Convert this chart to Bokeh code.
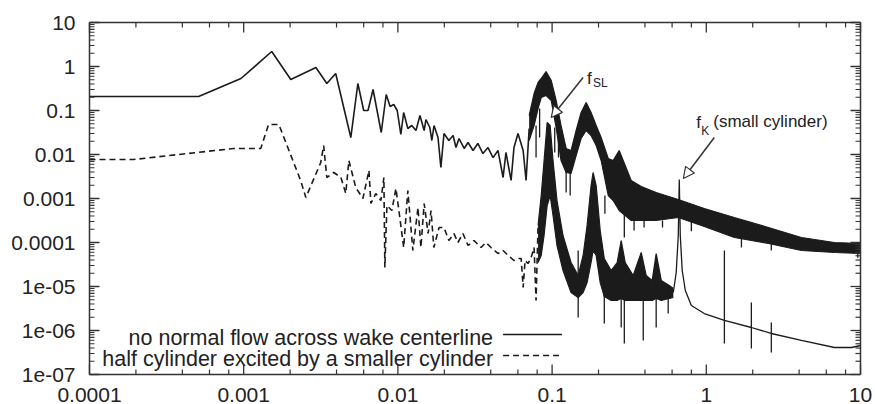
from bokeh.plotting import figure
from bokeh.models import Range1d, Label, Arrow, NormalHead
from bokeh.core.properties import value
from bokeh.embed import file_html
from bokeh.resources import INLINE

# ---------------- axes ----------------
x_ticks = [1e-4, 1e-3, 1e-2, 1e-1, 1, 10]
x_tick_labels = ["0.0001", "0.001", "0.01", "0.1", "1", "10"]
y_ticks = [1e-7, 1e-6, 1e-5, 1e-4, 1e-3, 1e-2, 1e-1, 1, 10]
y_tick_labels = ["1e-07", "1e-06", "1e-05", "0.0001", "0.001", "0.01", "0.1", "1", "10"]
x_minor_mant = [2, 4, 6, 8]
y_minor_mant = [2, 3, 4, 5, 6, 7, 8, 9]

# ---------------- series 1: no normal flow across wake centerline (solid) ----------------
solid_x = [1e-4, 5.1e-4, 9.6e-4, 1.52e-3, 2.02e-3, 2.94e-3, 3.46e-3, 3.95e-3, 4.95e-3, 5.5e-3,
           6.0e-3, 6.4e-3, 6.9e-3, 7.8e-3, 8.4e-3, 8.9e-3, 9.4e-3, 9.9e-3, 1.045e-2, 1.09e-2,
           1.16e-2, 1.23e-2, 1.31e-2, 1.39e-2, 1.48e-2, 1.52e-2, 1.61e-2, 1.66e-2, 1.715e-2, 1.82e-2,
           1.90e-2, 1.99e-2, 2.14e-2, 2.28e-2, 2.38e-2, 2.49e-2, 2.69e-2, 2.85e-2, 3.07e-2, 3.30e-2,
           3.56e-2, 3.84e-2, 4.14e-2, 4.46e-2, 4.81e-2, 5.02e-2, 5.42e-2, 5.66e-2, 6.01e-2, 6.49e-2,
           6.78e-2, 7.10e-2]
solid_y = [0.208, 0.208, 0.534, 2.19, 0.506, 0.949, 0.411, 0.693, 0.0243, 0.411,
           0.1, 0.1, 0.30, 0.0316, 0.231, 0.123, 0.137, 0.1, 0.0285, 0.0901,
           0.039, 0.0456, 0.0351, 0.0769, 0.0351, 0.0624, 0.0411, 0.0208, 0.0456, 0.0243,
           5.07e-3, 0.030, 0.0208, 0.027, 0.0144, 0.0231, 0.0137, 0.0187, 0.0123, 0.0178,
           0.0105, 0.0144, 0.0085, 0.0123, 0.0030, 0.0111, 0.00257, 0.0144, 0.030, 0.0123,
           0.00257, 0.039]
# dense (noisy) part drawn as an envelope band
solid_band_x = [0.0710, 0.0764, 0.0811, 0.0850, 0.0914, 0.0987, 0.1062, 0.1143, 0.1233, 0.1327,
                0.1432, 0.1542, 0.1663, 0.1790, 0.1931, 0.2080, 0.2312, 0.2489, 0.2723, 0.2979,
                0.3258, 0.3784, 0.4731, 0.6577, 0.970, 1.52, 2.53, 4.14, 6.78, 10.0]
solid_band_hi = [0.0769, 0.243, 0.433, 0.534, 0.769, 0.481, 0.169, 0.0456, 0.0137, 0.0123,
                 0.0351, 0.0901, 0.152, 0.0901, 0.0456, 0.0243, 0.0081, 0.00731, 0.0123, 0.0056,
                 0.00257, 0.001874, 0.001368, 0.000949, 0.000593, 0.00037, 0.000219, 0.00013, 0.0001, 0.0000949]
solid_band_lo = [0.0208, 0.0456, 0.111, 0.197, 0.219, 0.169, 0.0411, 0.00731, 0.0039, 0.0037,
                 0.0095, 0.0231, 0.0351, 0.027, 0.016, 0.00731, 0.00117, 0.000901, 0.000534, 0.000411,
                 0.000316, 0.000316, 0.000316, 0.00037, 0.000231, 0.00013, 0.0000949, 6.58e-5, 5.93e-5, 5.62e-5]
solid_spike_x = [0.0787, 0.0830, 0.1040, 0.1100, 0.1233, 0.131, 0.2200, 0.294, 0.340, 0.395,
                 0.52, 0.80, 1.69, 2.64, 9.6]
solid_spike_top = [0.0456, 0.111, 0.0411, 0.0411, 0.00731, 0.0039, 0.00117, 0.000534, 0.000316, 0.000316,
                   0.000316, 0.0003, 0.00013, 0.0001, 0.0001]
solid_spike_bot = [0.0085, 0.0243, 0.0111, 0.0085, 0.001368, 0.00117, 0.00045, 0.00013, 0.0001875, 0.000219,
                   0.00022, 0.00018, 7.69e-5, 6.58e-5, 4.5e-5]

# ---------------- series 2: half cylinder excited by a smaller cylinder (dashed) ----------------
dash_x = [1e-4, 1.93e-4, 4.33e-4, 8.61e-4, 1.29e-3, 1.45e-3, 1.69e-3, 2.34e-3, 2.53e-3, 3.16e-3,
          3.30e-3, 3.46e-3, 3.84e-3, 4.27e-3, 4.59e-3, 4.81e-3, 5.33e-3, 5.93e-3, 6.49e-3, 6.68e-3,
          7.19e-3, 7.76e-3, 8.11e-3, 8.23e-3, 8.49e-3, 9.14e-3, 9.71e-3, 1.015e-2, 1.09e-2, 1.16e-2,
          1.25e-2, 1.35e-2, 1.41e-2, 1.48e-2, 1.57e-2, 1.64e-2, 1.71e-2, 1.85e-2, 1.99e-2, 2.14e-2,
          2.31e-2, 2.45e-2, 2.64e-2, 2.85e-2, 3.12e-2, 3.46e-2, 3.72e-2, 4.02e-2, 4.46e-2, 4.81e-2,
          5.18e-2, 5.66e-2, 6.1e-2, 6.30e-2, 6.49e-2, 6.68e-2, 6.98e-2, 7.31e-2, 7.64e-2, 7.87e-2,
          8.11e-2]
dash_y = [7.69e-3, 7.69e-3, 1.054e-2, 1.37e-2, 1.37e-2, 4.81e-2, 4.81e-2, 2.57e-3, 1.054e-3, 6.58e-3,
          1.60e-2, 3.0e-3, 3.9e-3, 3.0e-3, 1.30e-3, 7.31e-3, 1.78e-3, 1.0e-3, 4.33e-3, 7.69e-4,
          1.30e-3, 9.0e-4, 3.0e-3, 2.70e-5, 6.93e-4, 5.34e-4, 1.69e-3, 5.34e-4, 7.69e-5, 1.52e-3,
          6.58e-5, 6.24e-4, 7.69e-5, 7.69e-4, 1.60e-4, 5.34e-4, 7.69e-5, 2.19e-4, 2.19e-4, 1.11e-4,
          1.60e-4, 1.0e-4, 1.60e-4, 8.55e-5, 1.11e-4, 7.69e-5, 1.0e-4, 7.69e-5, 5.62e-5, 6.58e-5,
          5.07e-5, 3.9e-5, 4.33e-5, 4.33e-5, 9.49e-6, 3.9e-5, 3.33e-5, 4.56e-5, 7.69e-5, 4.81e-6,
          2.43e-4]
dash_band_x = [0.0811, 0.0850, 0.0887, 0.0929, 0.0971, 0.1014, 0.1076, 0.1177, 0.1327, 0.1476,
               0.1589, 0.1686, 0.1790, 0.1844, 0.1931, 0.2051, 0.2179, 0.2416, 0.2642, 0.2806,
               0.2979, 0.3357, 0.3784, 0.4074, 0.4457, 0.4731, 0.5105, 0.5754, 0.6110]
dash_band_hi = [2.43e-4, 1.17e-3, 7.31e-3, 5.34e-2, 4.56e-2, 7.31e-3, 9.0e-4, 1.44e-4, 3.51e-5, 1.78e-5,
                5.07e-5, 2.43e-4, 1.97e-3, 3.9e-3, 1.97e-3, 1.87e-4, 4.33e-5, 2.31e-5, 3.51e-5, 1.11e-4,
                3.51e-5, 1.78e-5, 5.93e-5, 1.78e-5, 1.37e-5, 5.62e-5, 1.37e-5, 1.054e-5, 9.0e-6]
dash_band_lo = [3.51e-5, 5.07e-5, 1.44e-4, 6.93e-4, 1.17e-3, 4.11e-4, 8.55e-5, 2.31e-5, 7.31e-6, 5.62e-6,
                7.31e-6, 1.23e-5, 3.51e-5, 6.58e-5, 5.07e-5, 1.23e-5, 5.93e-6, 4.81e-6, 4.81e-6, 5.34e-6,
                4.81e-6, 4.81e-6, 4.81e-6, 4.81e-6, 4.81e-6, 5.34e-6, 4.81e-6, 5.34e-6, 5.62e-6]
tail_x = [0.611, 0.638, 0.658, 0.668, 0.678, 0.698, 0.731, 0.800, 0.970, 1.31,
          1.96, 2.64, 4.14, 6.78, 8.75, 10.0]
tail_y = [7.31e-6, 2.08e-5, 1.44e-4, 2.70e-3, 1.44e-4, 2.31e-5, 8.11e-6, 3.70e-6, 2.43e-6, 1.69e-6,
          1.17e-6, 8.55e-7, 5.93e-7, 4.11e-7, 4.11e-7, 4.56e-7]
dash_spike_x = [0.1476, 0.218, 0.2806, 0.294, 0.390, 0.4731, 0.566, 1.31, 1.96, 2.64]
dash_spike_top = [6.58e-5, 1.37e-5, 1.37e-5, 1.054e-5, 1.054e-5, 1.054e-5, 1.054e-5, 6.58e-5, 4.33e-6, 1.52e-6]
dash_spike_bot = [1.97e-6, 1.44e-6, 1.17e-6, 5.07e-7, 5.93e-7, 1.17e-6, 2.43e-6, 5.07e-7, 3.9e-7, 3.16e-7]

legend_labels = ["no normal flow across wake centerline",
                 "half cylinder excited by a smaller cylinder"]

INK = "#1b1b1b"
AXC = "#333333"
TXT = "#222222"
FONT = "Liberation Sans"

X_MIN, X_MAX = x_ticks[0], x_ticks[-1]
Y_MIN, Y_MAX = y_ticks[0], y_ticks[-1]

# page layout in pixels: the plotting box sits 89/15/22/30 px from the page edges;
# the figure's frame covers the whole page so that tick labels can sit outside the box
W, H = 875, 404
LEFT, RIGHT, TOP, BOTTOM = 89, 15, 22, 30
DEC_X = (W - LEFT - RIGHT) / 5.0   # px per decade
DEC_Y = (H - TOP - BOTTOM) / 8.0

def xshift(v, px):   # move a log-x position by px pixels
    return v * 10 ** (px / DEC_X)

def yshift(v, px):   # move a log-y position by px pixels (up positive)
    return v * 10 ** (px / DEC_Y)

p = figure(width=W, height=H, x_axis_type="log", y_axis_type="log",
           x_range=Range1d(xshift(X_MIN, -LEFT), xshift(X_MAX, RIGHT)),
           y_range=Range1d(yshift(Y_MIN, -BOTTOM), yshift(Y_MAX, TOP)),
           output_backend="svg", toolbar_location=None,
           x_axis_location=None, y_axis_location=None,
           min_border_left=0, min_border_right=0, min_border_top=0, min_border_bottom=0)
p.grid.visible = False
p.outline_line_color = None
p.background_fill_color = "white"
p.border_fill_color = "white"

def minor(ticks, mants):
    out = []
    for t in ticks[:-1]:
        out += [t * m for m in mants]
    return out

x_minor = minor(x_ticks, x_minor_mant)
y_minor = minor(y_ticks, y_minor_mant)

# ---------------- data ----------------
p.line(solid_x, solid_y, line_color=INK, line_width=1.6)
p.varea(x=solid_band_x, y1=solid_band_lo, y2=solid_band_hi, fill_color=INK)
p.line(solid_band_x, solid_band_hi, line_color=INK, line_width=1.2)
p.line(solid_band_x, solid_band_lo, line_color=INK, line_width=1.2)
p.segment(x0=solid_spike_x, y0=solid_spike_top, x1=solid_spike_x, y1=solid_spike_bot,
          line_color=INK, line_width=1.3)

p.line(dash_x, dash_y, line_color=INK, line_width=1.6, line_dash="6 4")
p.varea(x=dash_band_x, y1=dash_band_lo, y2=dash_band_hi, fill_color=INK)
p.line(dash_band_x, dash_band_hi, line_color=INK, line_width=1.2)
p.line(dash_band_x, dash_band_lo, line_color=INK, line_width=1.2)
p.line(tail_x, tail_y, line_color=INK, line_width=1.3)
p.segment(x0=dash_spike_x, y0=dash_spike_top, x1=dash_spike_x, y1=dash_spike_bot,
          line_color=INK, line_width=1.3)

# ---------------- box, ticks (inward, mirrored) and tick labels ----------------
p.segment(x0=[X_MIN, X_MIN, X_MIN, X_MAX], y0=[Y_MIN, Y_MAX, Y_MIN, Y_MIN],
          x1=[X_MAX, X_MAX, X_MIN, X_MAX], y1=[Y_MIN, Y_MAX, Y_MAX, Y_MAX],
          line_color=AXC, line_width=1.5)

def xticks(vals, length, width):
    n = len(vals)
    p.segment(x0=vals, y0=[Y_MIN] * n, x1=vals, y1=[yshift(Y_MIN, length)] * n,
              line_color=AXC, line_width=width)
    p.segment(x0=vals, y0=[Y_MAX] * n, x1=vals, y1=[yshift(Y_MAX, -length)] * n,
              line_color=AXC, line_width=width)

def yticks(vals, length, width):
    n = len(vals)
    p.segment(x0=[X_MIN] * n, y0=vals, x1=[xshift(X_MIN, length)] * n, y1=vals,
              line_color=AXC, line_width=width)
    p.segment(x0=[X_MAX] * n, y0=vals, x1=[xshift(X_MAX, -length)] * n, y1=vals,
              line_color=AXC, line_width=width)

xticks(x_ticks, 10, 1.3)
xticks(x_minor, 5, 1.2)
yticks(y_ticks, 10, 1.3)
yticks(y_minor, 5, 1.2)

p.text(x=x_ticks, y=[yshift(Y_MIN, -20)] * len(x_ticks), text=x_tick_labels,
       text_font=value(FONT), text_font_size="21px", text_color=TXT,
       text_align="center", text_baseline="middle")
p.text(x=[xshift(X_MIN, -14)] * len(y_ticks), y=y_ticks, text=y_tick_labels,
       text_font=value(FONT), text_font_size="21px", text_color=TXT,
       text_align="right", text_baseline="middle")

# ---------------- annotations ----------------
def lab(x, y, t, size, align="left"):
    p.add_layout(Label(x=x, y=y, text=t, text_font=FONT, text_font_size=size,
                       text_color=TXT, text_align=align, text_baseline="alphabetic"))

lab(0.1686, 0.533, "f", "17px")
lab(0.1844, 0.411, "SL", "12px")
p.add_layout(Arrow(end=NormalHead(size=11, fill_color="white", line_color=AXC, line_width=1.2),
                   x_start=0.1589, y_start=0.562, x_end=0.0987, y_end=0.0693,
                   line_color=AXC, line_width=1.5))
lab(0.861, 0.0534, "f", "17px")
lab(0.929, 0.0351, "K", "12px")
lab(1.11, 0.0562, "(small cylinder)", "17px")
p.add_layout(Arrow(end=NormalHead(size=11, fill_color="white", line_color=AXC, line_width=1.2),
                   x_start=1.127, y_start=0.0243, x_end=0.710, y_end=0.00285,
                   line_color=AXC, line_width=1.5))

# legend (text right-aligned, sample line on the right)
lab(0.0414, 6.93e-7, legend_labels[0], "21.5px", "right")
lab(0.0414, 2.31e-7, legend_labels[1], "21.5px", "right")
p.line([0.0481, 0.116], [8.11e-7, 8.11e-7], line_color=INK, line_width=1.5)
p.line([0.0481, 0.116], [2.70e-7, 2.70e-7], line_color=INK, line_width=1.5, line_dash="6 4")

open("out.html", "w").write(file_html(p, INLINE))
